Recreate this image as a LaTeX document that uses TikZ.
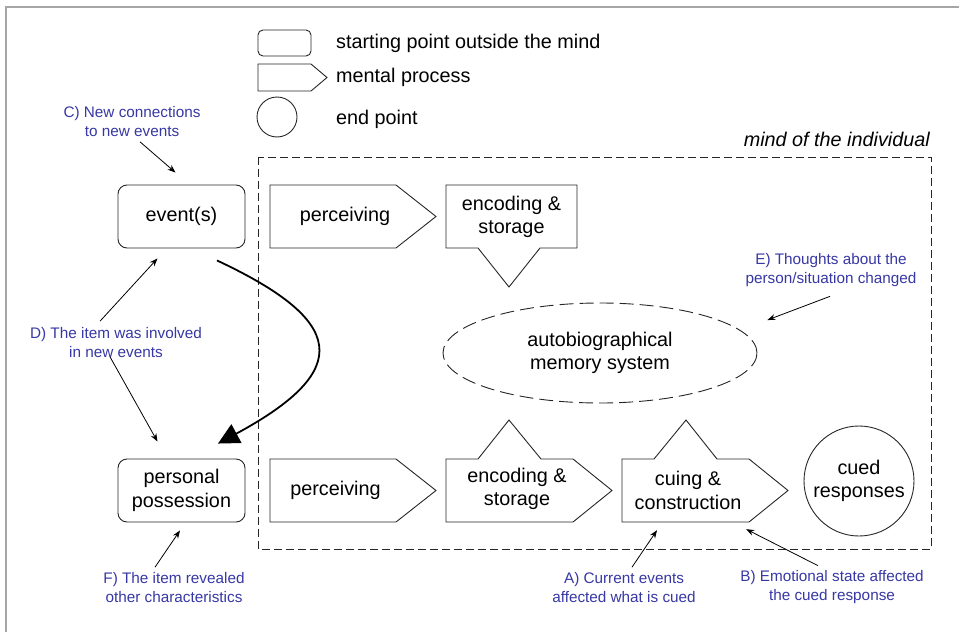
\documentclass[tikz,border=0pt]{standalone}
\usepackage{fontspec}
\setmainfont{Liberation Sans}
\usetikzlibrary{arrows.meta,shapes.geometric}
\definecolor{annot}{RGB}{55,55,165}

\begin{document}
\begin{tikzpicture}[x=1pt,y=-1pt,
  every node/.style={inner sep=1pt},
  >={Stealth[length=8pt,width=6pt]},
  shapeline/.style={draw=black!85,line width=.9pt},
  txt/.style={align=center,font=\fontsize{19.8}{23.5}\selectfont},
  startbox/.style={shapeline,txt,rounded corners=9pt,minimum width=127pt,minimum height=63pt},
  body/.style={txt,minimum width=127pt,minimum height=63pt,inner sep=0pt},
  note/.style={align=center,text=annot,font=\fontsize{15.3}{19}\selectfont},
  notearrow/.style={->,line width=.8pt}]
\useasboundingbox (0,0) rectangle (959,632);
\draw[gray!70,line width=1.5pt] (6,632) -- (6,7) -- (959,7);
% legend
\node[startbox,minimum width=53pt,minimum height=26pt,rounded corners=5pt] (legstart) at (284.5,43) {};
\draw[shapeline] (258,64) -- (311,64) -- (327,77.5) -- (311,91) -- (258,91) -- cycle;
\node[shapeline,circle,minimum size=40pt] (legendpt) at (277,117) {};
\node[txt,anchor=west] (legstarttext) at (335,43) {starting point outside the mind};
\node[txt,anchor=west] (legproctext) at (335,77) {mental process};
\node[txt,anchor=west] (legendtext) at (335,119) {end point};
% mind of the individual
\draw[shapeline,dash pattern=on 8pt off 4pt] (258,157) rectangle (931,549);
\node[txt,font=\fontsize{19.8}{23.5}\selectfont\itshape,anchor=east] (mind) at (931,139) {mind of the individual};
% outside the mind
\node[startbox] (events) at (181.5,216.5) {event(s)};
\node[startbox] (possession) at (181.5,490.5) {personal\\possession};
% top row
\node[body] (perctop) at (345,216.5) {perceiving};
\draw[shapeline] (270,185) -- (396,185) -- (436,216.5) -- (396,248) -- (270,248) -- cycle;
\node[body,minimum width=131pt] (enctop) at (511.5,217) {encoding \&\\storage};
\draw[shapeline] (446,185) -- (577,185) -- (577,248) -- (540,248) -- (509,287) -- (478,248) -- (446,248) -- cycle;
\node[shapeline,ellipse,dash pattern=on 14pt off 6pt,txt,minimum width=314pt,minimum height=100pt] (memory) at (600,353) {autobiographical\\memory system};
% bottom row
\node[body] (percbot) at (335.5,490.5) {perceiving};
\draw[shapeline] (270,459) -- (396,459) -- (436,490.5) -- (396,522) -- (270,522) -- cycle;
\node[body] (encbot) at (517,489) {encoding \&\\storage};
\draw[shapeline] (446,459) -- (478,459) -- (509,420) -- (541,459) -- (573,459) -- (612,490.5) -- (573,522) -- (446,522) -- cycle;
\node[body] (cuing) at (688,490.5) {cuing \&\\construction};
\draw[shapeline] (622,459) -- (654,459) -- (686,420) -- (717,459) -- (749,459) -- (788,490.5) -- (749,522) -- (622,522) -- cycle;
\node[shapeline,circle,txt,minimum size=110pt] (cued) at (859,481) {cued\\responses};
% annotations
\node[note] (ctext) at (132,121.5) {C) New connections\\to new events};
\node[note] (dtext) at (116,342.5) {D) The item was involved\\in new events};
\node[note] (etext) at (831,270.5) {E) Thoughts about the\\person/situation changed};
\node[note] (ftext) at (174,587.5) {F) The item revealed\\other characteristics};
\node[note] (atext) at (624,587.5) {A) Current events\\affected what is cued};
\node[note] (btext) at (832,587.5) {B) Emotional state affected\\the cued response};
\draw[notearrow] ([shift={(8,4)}]ctext.south) -- ([shift={(-6,-12)}]events.north);
\draw[notearrow] ([shift={(-16,-5)}]dtext.north) -- ([shift={(-24,10)}]events.south);
\draw[notearrow] ([shift={(-6,-2)}]dtext.south) -- ([shift={(-24,-17)}]possession.north);
\draw[notearrow] ([shift={(-1,8)}]etext.south) -- ([shift={(10,-33)}]memory.east);
\draw[notearrow] ([shift={(-19,-4)}]ftext.north) -- ([shift={(-1.5,8)}]possession.south);
\draw[notearrow] ([shift={(8,-4)}]atext.north) -- ([shift={(-31,8)}]cuing.south);
\draw[notearrow] ([shift={(-14,-4)}]btext.north) -- ([shift={(-5.5,7)}]cuing.south east);
% event becomes a possession
\draw[-{Triangle[length=21pt,width=21pt]},line width=1.8pt] ([shift={(35.5,12)}]events.south) .. controls +(128,60) and +(137,-74) .. ([shift={(36.5,-15)}]possession.north);
\end{tikzpicture}
\end{document}
